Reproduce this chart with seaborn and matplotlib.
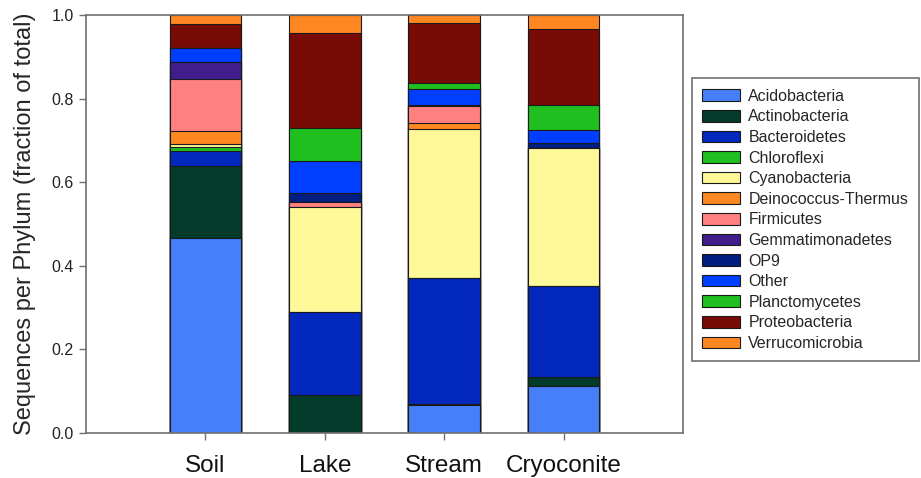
import pandas as pd
import seaborn as sns
import matplotlib.pyplot as plt
from matplotlib.patches import Patch

samples = ["Soil", "Lake", "Stream", "Cryoconite"]

phyla = ["Acidobacteria", "Actinobacteria", "Bacteroidetes", "Chloroflexi",
         "Cyanobacteria", "Deinococcus-Thermus", "Firmicutes", "Gemmatimonadetes",
         "OP9", "Other", "Planctomycetes", "Proteobacteria", "Verrucomicrobia"]

# fraction of total sequences, one list per phylum (Soil, Lake, Stream, Cryoconite)
acidobacteria = [0.466, 0.000, 0.068, 0.113]
actinobacteria = [0.173, 0.091, 0.002, 0.020]
bacteroidetes = [0.036, 0.198, 0.300, 0.219]
chloroflexi = [0.010, 0.000, 0.000, 0.000]
cyanobacteria = [0.006, 0.252, 0.357, 0.331]
deinococcus = [0.031, 0.000, 0.014, 0.000]
firmicutes = [0.125, 0.012, 0.041, 0.000]
gemmatimonadetes = [0.040, 0.000, 0.000, 0.000]
op9 = [0.000, 0.020, 0.002, 0.010]
other = [0.033, 0.078, 0.038, 0.032]
planctomycetes = [0.000, 0.079, 0.016, 0.060]
proteobacteria = [0.058, 0.226, 0.144, 0.182]
verrucomicrobia = [0.022, 0.044, 0.018, 0.033]

colors = ["#4580FA", "#033B2B", "#0228BE", "#20BF20", "#FFF899", "#FF8722",
          "#FF8080", "#401D8A", "#001E80", "#003FFF", "#20BF20", "#780B05", "#FF8722"]

df = pd.DataFrame({
    "Acidobacteria": acidobacteria,
    "Actinobacteria": actinobacteria,
    "Bacteroidetes": bacteroidetes,
    "Chloroflexi": chloroflexi,
    "Cyanobacteria": cyanobacteria,
    "Deinococcus-Thermus": deinococcus,
    "Firmicutes": firmicutes,
    "Gemmatimonadetes": gemmatimonadetes,
    "OP9": op9,
    "Other": other,
    "Planctomycetes": planctomycetes,
    "Proteobacteria": proteobacteria,
    "Verrucomicrobia": verrucomicrobia,
}, index=samples)

# stacked bars: draw cumulative totals, tallest first
cum = df[phyla].cumsum(axis=1)

sns.set_style("ticks")
plt.rcParams['font.family'] = ['Liberation Sans', 'DejaVu Sans']

fig = plt.figure(figsize=(9.21, 4.78), dpi=100)
ax = fig.add_axes([0.0934, 0.0941, 0.6482, 0.8745])

for name, col in reversed(list(zip(phyla, colors))):
    sns.barplot(x=samples, y=cum[name].values, color=col, saturation=1,
                width=0.6, edgecolor="#1a1a1a", linewidth=0.8, ax=ax)

ax.set_xlim(-1, 4)
ax.set_ylim(0, 1.0)
ax.set_yticks([0.0, 0.2, 0.4, 0.6, 0.8, 1.0])
ax.set_yticklabels(["0.0", "0.2", "0.4", "0.6", "0.8", "1.0"])
ax.set_ylabel("Sequences per Phylum (fraction of total)", fontsize=17, labelpad=11)

for s in ax.spines.values():
    s.set_color("#707070")
    s.set_linewidth(1.2)
    s.set_visible(True)
ax.tick_params(axis="y", labelsize=11.5, length=5, width=1, color="#707070", pad=4, labelcolor="#222222")
ax.tick_params(axis="x", labelsize=17.5, length=5, width=1, color="#707070", pad=11, labelcolor="#111111")

handles = [Patch(facecolor=c, edgecolor="#1a1a1a", linewidth=0.8, label=n)
           for n, c in zip(phyla, colors)]
leg = fig.legend(handles=handles, loc="center left", bbox_to_anchor=(0.751, 0.540),
                 fontsize=11.5, frameon=True, fancybox=False, framealpha=1,
                 handlelength=2.35, handleheight=0.75, handletextpad=0.55,
                 labelspacing=0.35, borderpad=0.65, borderaxespad=0)
leg.get_frame().set_edgecolor("#707070")
leg.get_frame().set_linewidth(1.2)

plt.savefig("out.png", dpi=100)
